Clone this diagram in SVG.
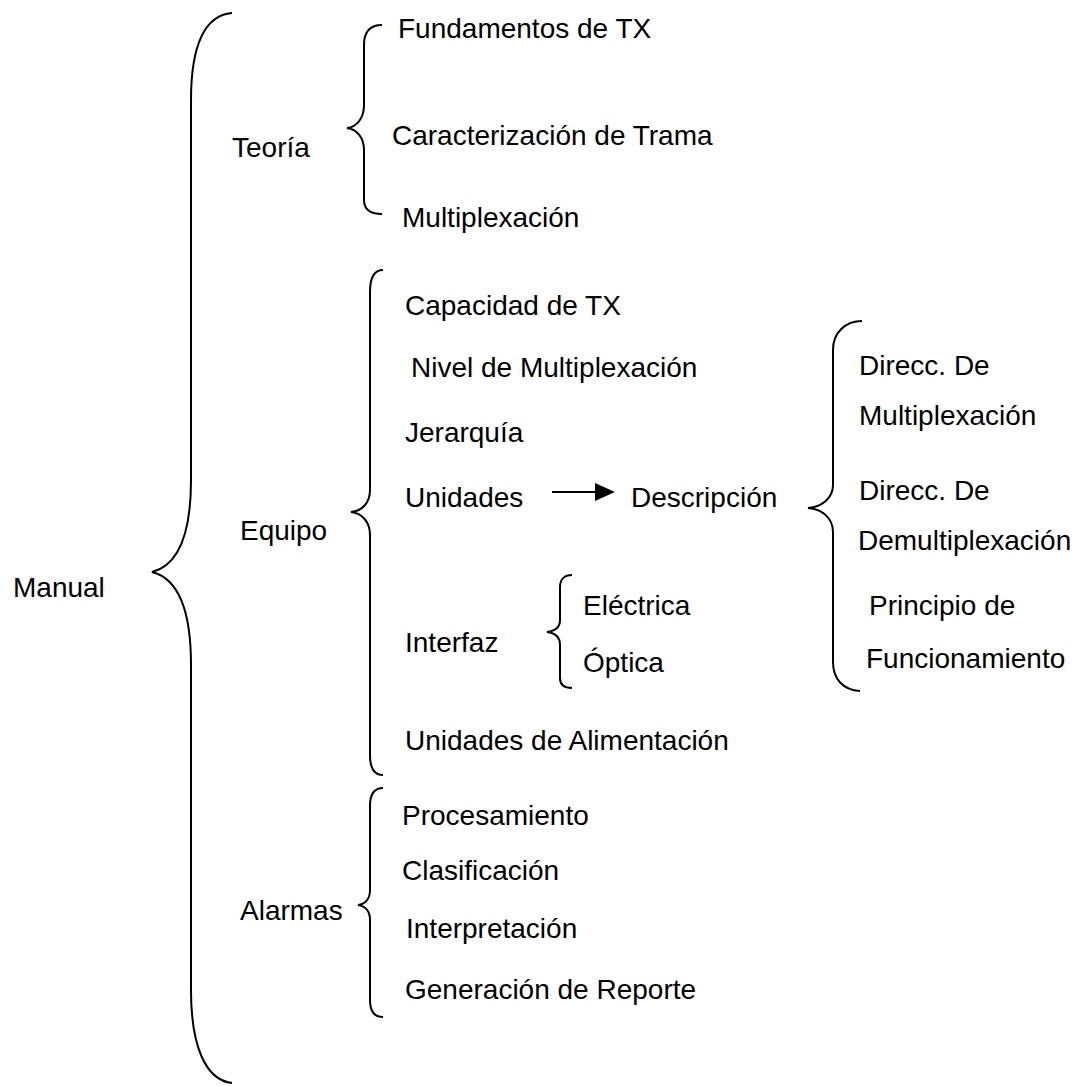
<svg xmlns="http://www.w3.org/2000/svg" width="1077" height="1086" viewBox="0 0 1077 1086">
<style>
text{font-family:"Liberation Sans",Arial,sans-serif;font-size:28px;fill:#000}
.br{fill:none;stroke:#000;stroke-width:2}
</style>
<rect width="1077" height="1086" fill="#fff"/>
<g id="connectors">
<path class="br" d="M232,13 C205,15 191,45 191,100 L191,480 C191,530 180,565 152,572 C180,579 191,615 191,665 L191,990 C191,1045 205,1080 232,1083"/>
<path class="br" d="M382,25 C370,25 364,32 364,45 L364,105 C364,118 357,127 347,128 C357,129 364,138 364,150 L364,200 C364,210 370,214 382,214"/>
<path class="br" d="M383,270 C374,270 370,278 370,292 L370,490 C370,503 362,511 351,512 C362,513 370,522 370,535 L370,755 C370,768 374,775 383,775"/>
<path class="br" d="M862,321 C846,321 833,332 833,350 L833,485 C833,498 822,507 808,508 C822,509 833,518 833,532 L833,662 C833,679 843,690 860,691"/>
<path class="br" d="M572,575 C565,575 560,579 560,587 L560,620 C560,627 555,631 547,632 C555,633 560,637 560,645 L560,678 C560,685 565,688 572,688"/>
<path class="br" d="M383,788 C374,788 370,795 370,806 L370,890 C370,899 365,904 358,905 C365,906 370,911 370,920 L370,1000 C370,1011 374,1017 383,1017"/>
<line x1="552" y1="492" x2="595" y2="492" stroke="#000" stroke-width="2"/>
<polygon points="595,483 615,492 595,501" fill="#000"/>
</g>
<g id="n-manual"><text x="13" y="597">Manual</text></g>
<g id="n-teoria"><text x="232" y="157">Teoría</text></g>
<g id="n-fund"><text x="398" y="38">Fundamentos de TX</text></g>
<g id="n-carac"><text x="392" y="145">Caracterización de Trama</text></g>
<g id="n-multi"><text x="402" y="227">Multiplexación</text></g>
<g id="n-equipo"><text x="240" y="540">Equipo</text></g>
<g id="n-cap"><text x="405" y="315">Capacidad de TX</text></g>
<g id="n-nivel"><text x="411" y="377">Nivel de Multiplexación</text></g>
<g id="n-jer"><text x="405" y="442">Jerarquía</text></g>
<g id="n-unid"><text x="405" y="507">Unidades</text></g>
<g id="n-desc"><text x="631" y="507">Descripción</text></g>
<g id="n-dmux"><text x="859" y="375">Direcc. De</text><text x="859" y="425">Multiplexación</text></g>
<g id="n-ddemux"><text x="859" y="500">Direcc. De</text><text x="858" y="550">Demultiplexación</text></g>
<g id="n-princ"><text x="869" y="615">Principio de</text><text x="866" y="668">Funcionamiento</text></g>
<g id="n-interfaz"><text x="405" y="652">Interfaz</text></g>
<g id="n-elec"><text x="583" y="615">Eléctrica</text></g>
<g id="n-opt"><text x="583" y="672">Óptica</text></g>
<g id="n-alim"><text x="405" y="750">Unidades de Alimentación</text></g>
<g id="n-alarmas"><text x="240" y="920">Alarmas</text></g>
<g id="n-proc"><text x="402" y="825">Procesamiento</text></g>
<g id="n-clas"><text x="402" y="880">Clasificación</text></g>
<g id="n-interp"><text x="406" y="938">Interpretación</text></g>
<g id="n-gen"><text x="405" y="999">Generación de Reporte</text></g>
</svg>
